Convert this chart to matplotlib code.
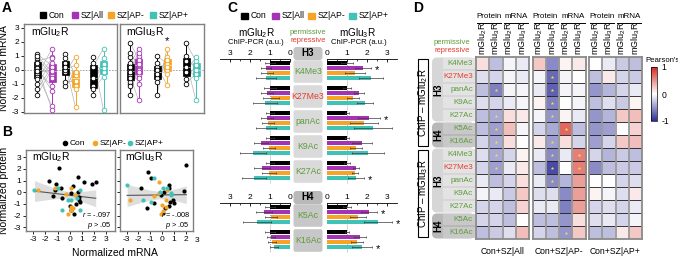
import numpy as np
import matplotlib
matplotlib.use('Agg')
import matplotlib.pyplot as plt
from matplotlib.patches import FancyBboxPatch, Rectangle
from matplotlib.colors import LinearSegmentedColormap

plt.rcParams['font.family'] = ['Liberation Sans', 'DejaVu Sans']
plt.rcParams['mathtext.fontset'] = 'custom'
plt.rcParams['mathtext.rm'] = 'Liberation Sans'
plt.rcParams['mathtext.it'] = 'Liberation Sans:italic'
plt.rcParams['mathtext.bf'] = 'Liberation Sans:bold'
plt.rcParams['axes.unicode_minus'] = False

# ---------------- data ----------------
GROUPS = ['Con', 'SZ|All', 'SZ|AP-', 'SZ|AP+']
COLORS = ['#000000', '#a633b6', '#f6a423', '#41c2b6']

# Panel A: normalized mRNA (paired Con / SZ)
A_M2_CON1 = [1.1, -0.3, 0.6, -1.8, 0.0, 0.8, -1.0, 0.3, -0.5, 1.0, -1.4, 0.1, -0.7, 0.5, -0.1]
A_M2_ALL = [0.3, -2.6, 0.9, 0.0, -1.2, -0.4, 0.5, -2.9, 1.5, -0.2, 0.2, -1.5, 0.8, -0.6, -0.1]
A_M2_CON2 = [1.1, -0.2, 0.5, -1.2, 0.8, 0.0, -0.9, 0.2]
A_M2_APN = [-0.4, 0.9, -2.7, -0.2, -1.2, 0.3, -0.8, -1.4]
A_M2_CON3 = [0.9, -1.8, 0.2, -1.2, 0.5, -0.6, -1.4]
A_M2_APP = [-2.9, 0.4, 1.5, 0.8, -0.2, 0.1, -0.5]
A_M3_CON1 = [1.9, -0.4, 0.3, -1.8, 0.9, -0.1, -1.0, 0.5, -0.9, 1.2, 0.0, -0.6, 0.2, -1.2, -0.2]
A_M3_ALL = [0.8, -2.2, 1.5, 0.2, -0.4, 1.0, 0.0, -1.0, 0.6, 0.3, 1.2, -0.6, 0.7, -0.2, 0.4]
A_M3_CON2 = [1.0, -1.8, 0.2, -0.6, 0.5, -0.9, 0.0, -0.3]
A_M3_APN = [0.4, 1.5, -1.1, 0.9, 0.0, 0.7, -0.3, 0.2]
A_M3_CON3 = [1.9, -1.0, 0.6, -0.2, 1.0, -0.7, 0.2]
A_M3_APP = [0.6, -0.3, -2.2, 0.9, 0.0, 0.3, -0.6]

# Panel B: protein vs mRNA
B_M2_CON_X = [-0.85, -1.7, -1.1, -0.7, -1.2, -1.35, -0.65, 0.7, 1.2, 1.85, 2.15, 0.25, 0.1, 0.65, 0.75, 0.8, 0.05, 0.15, 0.35, 0.5, 0.85]
B_M2_CON_Y = [2.1, 1.0, 0.7, 0.35, 0.2, -0.35, -0.5, 1.35, 0.85, 0.7, 0.9, 0.55, -0.1, 0.05, -0.4, -0.65, -1.15, -1.5, -1.9, -1.0, -0.85]
B_M2_APN_X = [-2.6, -1.2, -0.3, 0.15, 0.45, 0.1, 0.15, -0.1, 0.3]
B_M2_APN_Y = [0.2, 0.4, -0.15, 0.35, -0.2, -1.25, -1.5, -1.9, -1.35]
B_M2_APP_X = [-2.9, -1.0, -0.6, -0.15, 0.1, 0.85, 0.85, 0.6]
B_M2_APP_Y = [0.2, 0.35, -1.5, -0.65, -0.65, 0.2, -1.5, -0.5]
B_M3_CON_X = [-1.2, -0.9, -1.75, -1.3, -0.7, -0.05, 0.2, 0.6, 0.6, 0.7, 0.9, 1.05, 0.1, 0.25, 0.55, 1.9, 2.05]
B_M3_CON_Y = [1.7, 1.2, 0.35, -1.35, -0.9, -0.2, 0.05, 0.6, 0.35, -0.8, -0.65, -0.95, -1.8, -1.35, -1.15, 0.1, 2.35]
B_M3_APN_X = [-2.7, -0.65, -0.25, 0.3, 0.0, 0.1, -0.1, 0.35, -0.25, 0.4]
B_M3_APN_Y = [-0.65, -0.35, 0.85, -0.65, -1.1, -1.6, -1.9, -1.3, -0.1, 0.2]
B_M3_APP_X = [-2.95, -1.6, -0.9, -0.7, -0.2, 0.1, 0.45, 0.8, 0.8]
B_M3_APP_Y = [0.6, -0.65, -0.85, 1.2, 0.05, 0.35, 0.4, -0.2, -0.05]
B_M2_STATS = ['$\\it{r}$ = -.097', '$\\it{p}$ > .05']
B_M3_STATS = ['$\\it{r}$ = -.008', '$\\it{p}$ > .05']

# Panel C: ChIP-PCR (a.u.)
C_MARKS = ['K4Me3', 'K27Me3', 'panAc', 'K9Ac', 'K27Ac', 'K5Ac', 'K16Ac']
C_PERMISSIVE = [True, False, True, True, True, True, True]
C_M2_CON = [1.0, 1.0, 1.0, 1.0, 1.0, 1.0, 1.0]
C_M2_ALL = [1.2, 1.15, 1.15, 1.45, 1.4, 1.3, 0.95]
C_M2_APN = [1.15, 0.95, 1.1, 1.05, 1.05, 0.95, 0.9]
C_M2_APP = [1.2, 1.25, 1.2, 1.85, 1.8, 1.65, 0.8]
C_M2_CON_E = [0.25, 0.3, 0.2, 0.2, 0.2, 0.25, 0.25]
C_M2_ALL_E = [0.25, 0.3, 0.3, 0.35, 0.4, 0.4, 0.2]
C_M2_APN_E = [0.3, 0.4, 0.3, 0.3, 0.35, 0.3, 0.2]
C_M2_APP_E = [0.5, 0.6, 0.5, 0.65, 0.6, 0.7, 0.2]
C_M3_CON = [1.0, 1.0, 1.0, 1.0, 1.0, 1.0, 1.0]
C_M3_ALL = [1.8, 1.6, 2.1, 1.75, 1.45, 2.1, 1.65]
C_M3_APN = [1.4, 1.3, 1.85, 1.45, 1.4, 1.55, 1.5]
C_M3_APP = [2.2, 1.9, 2.3, 2.05, 1.45, 2.55, 1.75]
C_M3_CON_E = [0.3, 0.2, 0.1, 0.1, 0.15, 0.2, 0.1]
C_M3_ALL_E = [0.4, 0.25, 0.55, 0.5, 0.15, 0.4, 0.3]
C_M3_APN_E = [0.5, 0.3, 0.7, 0.3, 0.15, 0.4, 0.3]
C_M3_APP_E = [0.6, 0.4, 0.95, 0.8, 0.4, 0.7, 0.5]
C_M3_STARS = [(0, 1), (2, 1), (4, 3), (5, 1), (5, 3), (6, 3)]  # (mark, group)

# Panel D: Pearson's r, rows = ChIP marks (mGlu2R block, then mGlu3R block)
D_COLS = ['mGlu$_2$R', 'mGlu$_3$R', 'mGlu$_2$R', 'mGlu$_3$R']
D_TITLES = ['Con+SZ|All', 'Con+SZ|AP-', 'Con+SZ|AP+']
D_ALL = [[0.15, -0.3, -0.05, -0.1], [-0.15, -0.2, -0.05, -0.1], [-0.3, -0.6, -0.05, -0.05],
         [-0.15, -0.2, -0.1, -0.05], [-0.3, -0.4, 0.15, 0.1], [-0.3, -0.45, 0.3, -0.05],
         [-0.2, -0.4, 0.15, 0.0], [-0.15, -0.4, -0.2, 0.05], [-0.2, -0.45, -0.1, 0.1],
         [-0.1, -0.3, -0.2, 0.15], [-0.05, -0.1, -0.25, 0.25], [-0.2, -0.2, -0.3, 0.2],
         [-0.2, -0.2, -0.3, 0.0], [-0.3, -0.25, -0.15, 0.3]]
D_APN = [[0.25, -0.55, 0.05, 0.1], [-0.05, -0.7, -0.05, 0.0], [-0.1, -0.75, -0.05, -0.05],
         [0.05, -0.6, 0.0, -0.05], [-0.05, -0.5, 0.05, -0.1], [-0.2, -0.4, 0.7, -0.3],
         [0.1, -0.45, 0.15, -0.2], [-0.1, -0.55, -0.1, 0.6], [-0.3, -0.85, 0.0, 0.6],
         [-0.1, -0.55, -0.35, 0.45], [-0.15, -0.15, -0.55, 0.45], [-0.1, -0.1, -0.6, 0.45],
         [-0.3, -0.3, -0.5, 0.15], [-0.2, -0.3, -0.5, 0.25]]
D_APP = [[0.0, -0.1, -0.25, -0.3], [-0.3, 0.1, -0.2, -0.25], [-0.5, -0.35, -0.2, -0.1],
         [-0.3, -0.15, -0.25, 0.05], [-0.5, -0.35, 0.25, 0.3], [-0.5, -0.45, 0.0, 0.2],
         [-0.45, -0.2, 0.25, 0.3], [-0.2, -0.35, -0.25, -0.3], [-0.55, -0.3, -0.25, -0.25],
         [0.0, 0.0, -0.2, -0.15], [0.05, -0.05, -0.15, 0.1], [-0.2, -0.15, -0.2, -0.1],
         [-0.15, -0.1, -0.2, -0.05], [-0.3, -0.3, 0.1, 0.25]]
D_STARS_ALL = [(2, 1), (4, 1), (5, 1), (6, 1), (7, 1), (8, 1)]
D_STARS_APN = [(1, 1), (2, 1), (3, 1), (4, 1), (5, 2), (6, 1), (7, 1), (7, 3), (8, 1), (8, 3), (9, 1), (13, 2)]
D_STARS_APP = []

M2 = 'mGlu$_2$R'
M3 = 'mGlu$_3$R'
GREEN = '#5e9b3c'
RED = '#e8392d'
FS = 6

# ---------------- figure ----------------
W, H = 678, 260
fig = plt.figure(figsize=(W / 100, H / 100), dpi=100)


def add_ax(l, t, w, h):
    return fig.add_axes([l / W, 1 - (t + h) / H, w / W, h / H])


ov = add_ax(0, 0, W, H)
ov.set_xlim(0, W)
ov.set_ylim(H, 0)
ov.axis('off')


def T(x, y, s, **kw):
    kw.setdefault('fontsize', FS)
    kw.setdefault('va', 'center')
    ov.text(x, y, s, **kw)


for lab, (x, y) in zip('ABCD', [(2, 8), (2, 132), (227, 8), (413, 8)]):
    T(x, y, lab, fontsize=10, fontweight='bold', ha='left')

# ---------------- Panel A ----------------
for (sx, lab), col in zip([(40, 'Con'), (72, 'SZ|All'), (108, 'SZ|AP-'), (150, 'SZ|AP+')], COLORS):
    ov.add_patch(Rectangle((sx, 12), 6, 6, color=col))
    T(sx + 8.5, 15.5, lab, ha='left', fontsize=6.2)

A_SETS = [
    ((24, 93), (24, 117), [37, 52, 65, 75.5, 93, 103.5], M2,
     [(A_M2_CON1, A_M2_ALL, 1), (A_M2_CON2, A_M2_APN, 2), (A_M2_CON3, A_M2_APP, 3)]),
    ((120, 84), (120, 204), [130, 138.5, 157, 167, 186, 196], M3,
     [(A_M3_CON1, A_M3_ALL, 1), (A_M3_CON2, A_M3_APN, 2), (A_M3_CON3, A_M3_APP, 3)]),
]
for k, ((l, w), xl, pos, title, pairs) in enumerate(A_SETS):
    ax = add_ax(l, 24, w, 89)
    ax.set_xlim(*xl)
    ax.set_ylim(-3.1, 3.25)
    ax.axhline(0, color='#999999', ls=(0, (2, 1.5)), lw=0.6, zorder=0)
    for p, (con, sz, gi) in enumerate(pairs):
        xc, xs = pos[2 * p], pos[2 * p + 1]
        for a, b in zip(con, sz):
            ax.plot([xc, xs], [a, b], color='#b0b0b0', lw=0.45, zorder=1)
        for data, x, col in [(con, xc, COLORS[0]), (sz, xs, COLORS[gi])]:
            bp = ax.boxplot([data], positions=[x], widths=7, whis=(0, 100), showfliers=False,
                            showcaps=False, patch_artist=True, manage_ticks=False)
            for b in bp['boxes']:
                b.set_facecolor(col)
                b.set_edgecolor(col)
                b.set_linewidth(0.5)
                b.set_zorder(2)
            for wk in bp['whiskers']:
                wk.set_color(col)
                wk.set_linewidth(0.7)
            for m in bp['medians']:
                m.set_color('white')
                m.set_linewidth(0.5)
            ax.scatter([x] * len(data), data, s=11, facecolor='white', edgecolor=col,
                       linewidth=0.6, zorder=3)
    ax.text(0.07, 0.87, title, transform=ax.transAxes, fontsize=7.5)
    for sp in ax.spines.values():
        sp.set_color('#808080')
        sp.set_linewidth(1.0)
    ax.set_xticks([])
    if k == 0:
        ax.set_yticks(range(-3, 4))
        ax.tick_params(axis='y', labelsize=FS, length=2, width=0.6, pad=1.5)
        ax.set_ylabel('Normalized mRNA', fontsize=7.5)
        ax.yaxis.set_label_coords(-0.165, 0.5)
    else:
        ax.set_yticks([])
        ax.text(167, 2.0, '*', fontsize=8, ha='center', va='center')

# ---------------- Panel B ----------------
for (cx, lab), col in zip([(65, 'Con'), (95, 'SZ|AP-'), (130, 'SZ|AP+')],
                          [COLORS[0], COLORS[2], COLORS[3]]):
    ov.scatter([cx], [143], s=9, color=col)
    T(cx + 4.5, 143.5, lab, ha='left', fontsize=6.0)

B_SETS = [
    ((26, 89), (-3.6, 3.74), M2, [(B_M2_CON_X, B_M2_CON_Y, 0), (B_M2_APN_X, B_M2_APN_Y, 2),
                                  (B_M2_APP_X, B_M2_APP_Y, 3)], B_M2_STATS),
    ((120, 73), (-3.55, 2.62), M3, [(B_M3_CON_X, B_M3_CON_Y, 0), (B_M3_APN_X, B_M3_APN_Y, 2),
                                    (B_M3_APP_X, B_M3_APP_Y, 3)], B_M3_STATS),
]
for k, ((l, w), xl, title, sets, stats) in enumerate(B_SETS):
    ax = add_ax(l, 150, w, 81)
    ax.set_xlim(*xl)
    ax.set_ylim(-3.32, 3.63)
    xs_all = np.concatenate([np.array(s[0]) for s in sets])
    ys_all = np.concatenate([np.array(s[1]) for s in sets])
    slope, icpt = np.polyfit(xs_all, ys_all, 1)
    xg = np.linspace(xs_all.min(), xs_all.max(), 60)
    n = len(xs_all)
    resid = ys_all - (slope * xs_all + icpt)
    s = np.sqrt(np.sum(resid ** 2) / (n - 2))
    se = s * np.sqrt(1 / n + (xg - xs_all.mean()) ** 2 / np.sum((xs_all - xs_all.mean()) ** 2))
    yg = slope * xg + icpt
    ax.fill_between(xg, yg - 2.02 * se, yg + 2.02 * se, color='#dedede', lw=0, zorder=0)
    ax.plot(xg, yg, color='#555555', lw=0.8, zorder=1)
    for xs, ys, gi in sets:
        ax.scatter(xs, ys, s=9, color=COLORS[gi], lw=0, zorder=2)
    ax.text(0.07, 0.87, title, transform=ax.transAxes, fontsize=7.5)
    ax.text(0.96, 0.17, stats[0], transform=ax.transAxes, fontsize=5.3, ha='right')
    ax.text(0.96, 0.05, stats[1], transform=ax.transAxes, fontsize=5.3, ha='right')
    for sp in ax.spines.values():
        sp.set_color('#808080')
        sp.set_linewidth(1.0)
    ax.set_xticks([t for t in range(-3, 4) if xl[0] <= t <= xl[1]])
    ax.tick_params(labelsize=FS, length=2, width=0.6, pad=1.5)
    ax.set_yticks(range(-3, 4))
    if k == 0:
        ax.set_ylabel('Normalized protein', fontsize=7.5)
        ax.yaxis.set_label_coords(-0.19, 0.5)
    else:
        ax.set_yticklabels([])
T(197, 240.5, '3', ha='center', fontsize=FS)
T(115, 253, 'Normalized mRNA', ha='center', fontsize=7.5)

# ---------------- Panel C ----------------
for (sx, lab), col in zip([(241, 'Con'), (272, 'SZ|All'), (308, 'SZ|AP-'), (349, 'SZ|AP+')], COLORS):
    ov.add_patch(Rectangle((sx, 12.5), 7, 6.5, color=col))
    T(sx + 10, 16, lab, ha='left', fontsize=6.2)

T(257, 33, M2, ha='center', fontsize=7.2)
T(256, 43, 'ChIP-PCR (a.u.)', ha='center', fontsize=5.5)
T(358, 33, M3, ha='center', fontsize=7.2)
T(359, 43, 'ChIP-PCR (a.u.)', ha='center', fontsize=5.5)
T(308, 32, 'permissive', ha='center', fontsize=5.5, color=GREEN)
T(308, 40, 'repressive', ha='center', fontsize=5.5, color=RED)

C_M2 = [(C_M2_CON, C_M2_CON_E), (C_M2_ALL, C_M2_ALL_E), (C_M2_APN, C_M2_APN_E), (C_M2_APP, C_M2_APP_E)]
C_M3 = [(C_M3_CON, C_M3_CON_E), (C_M3_ALL, C_M3_ALL_E), (C_M3_APN, C_M3_APN_E), (C_M3_APP, C_M3_APP_E)]

for idx, top in [(list(range(0, 5)), 59), (list(range(5, 7)), 203)]:
    nrow = len(idx)
    hgt = nrow * 25
    for side, (l, w), xl, series in [('L', (220, 70), (3.5, 0), C_M2), ('R', (327, 70), (0, 3.5), C_M3)]:
        ax = add_ax(l, top, w, hgt)
        ax.set_xlim(*xl)
        ax.set_ylim(nrow, 0)
        ax.axvline(1, color='#888888', ls=(0, (1, 1.5)), lw=0.6, zorder=0)
        for j, (vals, errs) in enumerate(series):
            ys = [i + 0.165 + j * 0.2 for i in range(nrow)]
            v = [vals[m] for m in idx]
            e = [errs[m] for m in idx]
            ax.barh(ys, v, height=0.17, color=COLORS[j], zorder=2)
            ax.errorbar(v, ys, xerr=e, fmt='none', ecolor='#3a3a3a', elinewidth=0.5,
                        capsize=1.0, capthick=0.5, zorder=3)
        if side == 'R':
            for (m, g) in C_M3_STARS:
                if m in idx:
                    i = idx.index(m)
                    ax.text(C_M3[g][0][m] + C_M3[g][1][m] + 0.3, i + 0.165 + g * 0.2 + 0.06, '*',
                            fontsize=8, ha='center', va='center', clip_on=False)
        for nm in ['left', 'right', 'bottom']:
            ax.spines[nm].set_visible(False)
        ax.spines['top'].set_linewidth(0.6)
        ax.set_yticks([])
        ax.xaxis.tick_top()
        ax.set_xticks([0, 1, 2, 3])
        ax.set_xticks([0.5, 1.5, 2.5], minor=True)
        ax.tick_params(axis='x', which='major', direction='in', length=2.5, width=0.6,
                       labelsize=FS, pad=1.5)
        ax.tick_params(axis='x', which='minor', direction='in', length=1.5, width=0.5)
        ax.patch.set_visible(False)

# center label column
for idx, top, hdr, hcol, mcol in [(list(range(0, 5)), 59, 'H3', '#c4c4c4', '#dadada'),
                                  (list(range(5, 7)), 203, 'H4', '#b9b9b9', '#c7c7c7')]:
    ov.add_patch(FancyBboxPatch((293.5, top - 12), 29, 13, boxstyle='round,pad=0,rounding_size=3',
                                fc=hcol, ec='none'))
    T(308, top - 5.5, hdr, ha='center', fontsize=7, fontweight='bold')
    for i, m in enumerate(idx):
        ov.add_patch(FancyBboxPatch((293.5, top + i * 25 + 1.2), 29, 22.6,
                                    boxstyle='round,pad=0,rounding_size=2', fc=mcol, ec='none'))
        T(308, top + i * 25 + 12.5, C_MARKS[m], ha='center', fontsize=6.3,
          color=GREEN if C_PERMISSIVE[m] else RED)

# ---------------- Panel D ----------------
cmap = LinearSegmentedColormap.from_list('pr', ['#2a2c98', '#ffffff', '#d5281f'])
GX = [476, 532.5, 589]
GW = 53
ROW = 13
NR = len(D_ALL)
im = None
for g, (data, stars, title) in enumerate(zip([D_ALL, D_APN, D_APP],
                                             [D_STARS_ALL, D_STARS_APN, D_STARS_APP], D_TITLES)):
    ax = add_ax(GX[g], 57, GW, NR * ROW)
    im = ax.imshow(np.array(data), cmap=cmap, vmin=-1, vmax=1, aspect='auto',
                   extent=(0, 4, NR, 0), interpolation='nearest')
    for r in range(1, NR):
        ax.axhline(r, color='#1a1a1a', lw=0.6)
    for c in range(1, 4):
        ax.axvline(c, color='#9a9a9a', lw=1.3)
    for (r, c) in stars:
        ax.scatter([c + 0.5], [r + 0.5], marker='*', s=7, color='#f3e04a', lw=0, zorder=5)
    ax.set_xlim(0, 4)
    ax.set_ylim(NR, 0)
    ax.set_xticks([])
    ax.set_yticks([])
    for sp in ax.spines.values():
        sp.set_color('#8a8a8a')
        sp.set_linewidth(1.3)
    cw = GW / 4
    for c in range(4):
        T(GX[g] + (c + 0.5) * cw, 55, D_COLS[c], ha='center', va='bottom', rotation=90, fontsize=6.5)
    T(GX[g] + cw - 0.5, 16, 'Protein', ha='center', fontsize=5.8)
    T(GX[g] + 3 * cw + 0.5, 16, 'mRNA', ha='center', fontsize=5.8)
    ov.plot([GX[g] + 1, GX[g] + 2 * cw - 1.5], [22.5, 22.5], color='k', lw=0.7)
    ov.plot([GX[g] + 2 * cw + 1.5, GX[g] + GW - 1], [22.5, 22.5], color='k', lw=0.7)
    T(GX[g] + GW / 2, 252, title, ha='center', fontsize=6.2)

T(452, 43, 'permissive', ha='center', fontsize=5.5, color=GREEN)
T(452, 50.5, 'repressive', ha='center', fontsize=5.5, color=RED)
for b, rec in enumerate([M2, M3]):
    top = 57 + b * 7 * ROW
    ov.add_patch(Rectangle((417.5, top + 2), 10, 7 * ROW - 4, fc='white', ec='black', lw=0.8))
    T(422.7, top + 7 * ROW / 2, 'ChIP – ' + rec, ha='center', rotation=90, fontsize=7)
    for hdr, r0, r1, bcol, mcol in [('H3', 0, 5, '#d6d6d6', '#e3e3e3'), ('H4', 5, 7, '#b8b8b8', '#c8c8c8')]:
        y0 = top + r0 * ROW
        ov.add_patch(FancyBboxPatch((432, y0 + 0.5), 43, (r1 - r0) * ROW - 1,
                                    boxstyle='round,pad=0,rounding_size=5', fc=bcol, ec='none'))
        T(438.5, y0 + (r1 - r0) * ROW / 2, hdr, ha='center', rotation=90, fontsize=7, fontweight='bold')
        for r in range(r0, r1):
            ov.add_patch(Rectangle((443, top + r * ROW + 0.6), 32, ROW - 1.2, fc=mcol, ec='none'))
            T(473, top + r * ROW + ROW / 2, C_MARKS[r], ha='right', fontsize=5.8,
              color=GREEN if C_PERMISSIVE[r] else RED)

cax = add_ax(651, 67, 6, 54)
cb = fig.colorbar(im, cax=cax, ticks=[-1, 0, 1])
cb.ax.set_yticklabels(['-1', '0', '1'])
cb.ax.tick_params(labelsize=6.2, length=0, pad=3)
cb.outline.set_linewidth(0.5)
T(645, 60, "Pearson's", ha='left', fontsize=5.6)

fig.savefig('out.png', dpi=100)
